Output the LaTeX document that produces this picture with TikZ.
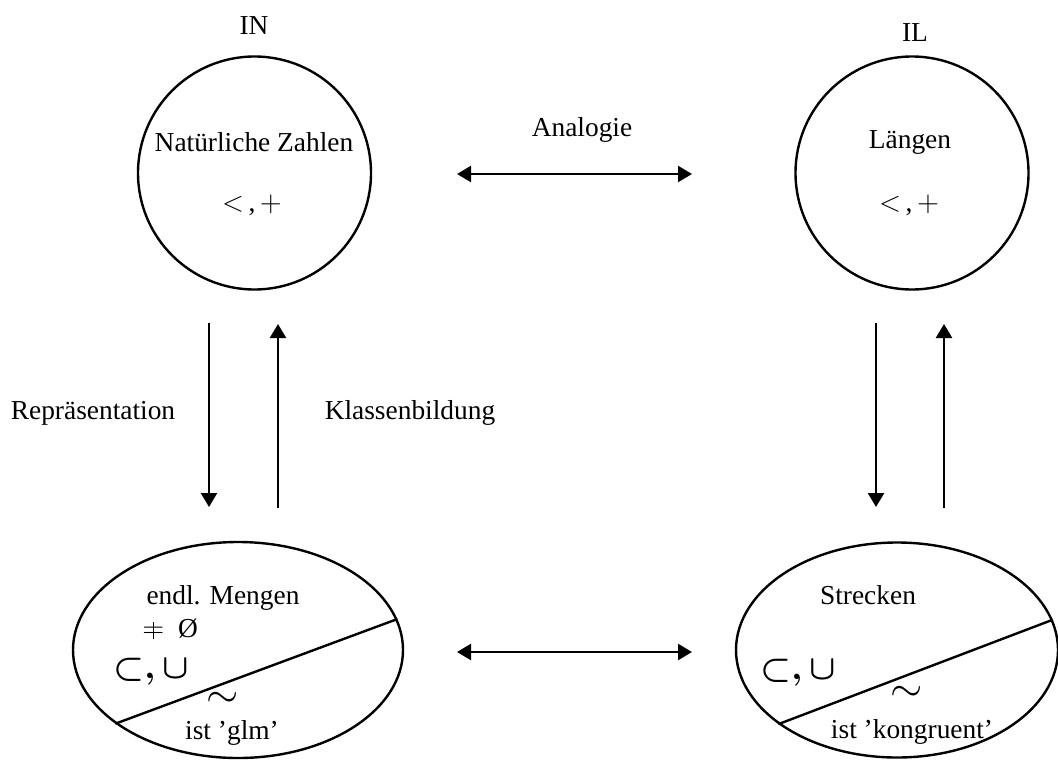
\documentclass[tikz,border=0pt]{standalone}
\usepackage{fontspec}
\setmainfont{Liberation Serif}
\usetikzlibrary{arrows.meta,shapes.geometric}
\begin{document}
\begin{tikzpicture}[x=0.5pt,y=-0.5pt,
  lbl/.style={inner sep=0pt,font=\fontsize{13.7}{16}\selectfont},
  sym/.style={inner sep=0pt,font=\fontsize{18}{20}\selectfont\boldmath},
  tld/.style={inner sep=0pt,font=\fontsize{22}{24}\selectfont},
  ring/.style={draw,line width=1.2pt,circle,minimum size=116.5pt,inner sep=0pt},
  oval/.style={draw,line width=1.2pt,ellipse,inner sep=0pt},
  divider/.style={line width=1.2pt},
  tip/.style={},
  arr/.style={line width=1.2pt,-{Triangle[length=7pt,width=8pt]}},
  darr/.style={line width=1.2pt,{Triangle[length=7pt,width=8pt]}-{Triangle[length=7pt,width=8pt]}}]
\useasboundingbox (0,0) rectangle (1058,760);
% top circles
\node[ring] (N) at (254.5,173) {};
\node[ring] (L) at (912,173) {};
\node[lbl] (tN) at (254,26) {IN};
\node[lbl] (tL) at (915,33) {IL};
\node[lbl] (nz) at (254,142) {Natürliche Zahlen};
\node[lbl] (nzop) at (252,205) {$<$\,,\,$+$};
\node[lbl] (lg) at (910,142) {Längen};
\node[lbl] (lgop) at (909,205) {$<$\,,\,$+$};
% bottom ellipses
\node[oval,minimum width=165pt,minimum height=108pt] (M) at (238,650) {};
\node[oval,minimum width=161pt,minimum height=107.5pt] (S) at (897,650) {};
\draw[divider] (M.211.7) -- (M.11.5);
\draw[divider] (S.212.8) -- (S.11.65);
\node[lbl] (em) at (223,598) {endl. Mengen};
\node[lbl,anchor=west] (ne) at (142,629) {\ooalign{$=$\cr\hfil\rule[-0.08em]{0.05em}{0.62em}\hfil}\ \ Ø};
\node[sym] (mops) at (151,672) {$\subset,\cup$};
\node[tld] (mt) at (223,700) {$\sim$};
\node[lbl] (glm) at (232,733) {ist ’glm’};
\node[lbl] (st) at (868,595) {Strecken};
\node[sym] (sops) at (798,673) {$\subset,\cup$};
\node[tld] (stl) at (907,694) {$\sim$};
\node[lbl] (kg) at (912,732) {ist ’kongruent’};
% horizontal arrows
\coordinate (h1a) at (457,174);
\coordinate (h1b) at (692,174);
\coordinate (h2a) at (457,652);
\coordinate (h2b) at (692,652);
\draw[darr] (h1a) -- (h1b);
\draw[darr] (h2a) -- (h2b);
\node[lbl] (an) at (582,130) {Analogie};
% vertical arrows
\coordinate (d1a) at (209,323);
\coordinate (d1b) at (209,507);
\coordinate (u1a) at (278,508);
\coordinate (u1b) at (278,324);
\coordinate (d2a) at (876,323);
\coordinate (d2b) at (876,507);
\coordinate (u2a) at (944,508);
\coordinate (u2b) at (944,324);
\draw[arr] (d1a) -- (d1b);
\draw[arr] (u1a) -- (u1b);
\draw[arr] (d2a) -- (d2b);
\draw[arr] (u2a) -- (u2b);
\node[lbl] (rep) at (93,413) {Repräsentation};
\node[lbl] (kb) at (410,413) {Klassenbildung};
\end{tikzpicture}
\end{document}
